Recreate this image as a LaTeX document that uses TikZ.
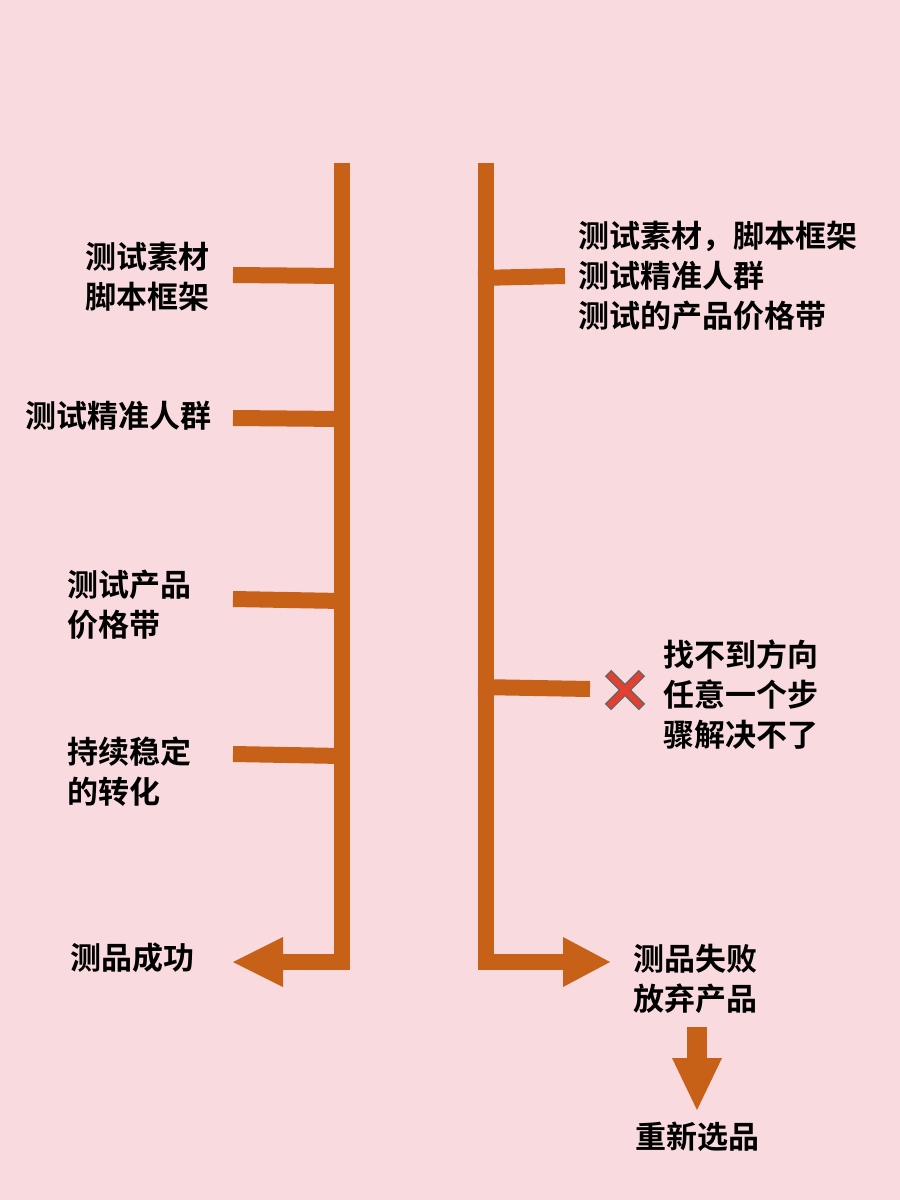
\documentclass[tikz,border=0pt]{standalone}
\usepackage{fontspec}
\newfontfamily\cjk{Noto Sans CJK SC Bold}
\usetikzlibrary{arrows.meta}
\definecolor{bg}{HTML}{F9DADF}
\definecolor{org}{HTML}{C66117}
\begin{document}
\begin{tikzpicture}[x=1pt,y=-1pt,
  bar/.style={draw=org,line width=16pt},
  lbl/.style={font=\cjk\fontsize{31}{40}\selectfont,align=left,anchor=west,inner sep=0pt,text=black},
  fat/.style={fill=org,draw=none}]
\fill[bg] (0,0) rectangle (900,1200);
\useasboundingbox (0,0) rectangle (900,1200);
% left
\coordinate (lt) at (342,163); \coordinate (lb) at (342,970);
\draw[bar] (lt) -- (lb);
\coordinate (l1) at (233,275); \draw[bar] (l1) -- (342,276);
\coordinate (l2) at (233,418); \draw[bar] (l2) -- (342,419);
\coordinate (l3) at (233,599); \draw[bar] (l3) -- (342,601);
\coordinate (l4) at (233,754); \draw[bar] (l4) -- (342,756);
\draw[bar] (350,962) -- (280,962);
\fill[fat] (233,962) -- (283,937) -- (283,987) -- cycle;
% right
\coordinate (rt) at (486,163); \coordinate (rb) at (486,970);
\draw[bar] (rt) -- (rb);
\coordinate (r1) at (565,276); \draw[bar] (478,278) -- (r1);
\coordinate (r2) at (590,689); \draw[bar] (478,687) -- (r2);
\draw[bar] (478,962) -- (568,962);
\fill[fat] (610,962) -- (563,937) -- (563,987) -- cycle;
% down arrow
\fill[fat] (687,1027) rectangle (707,1062);
\fill[fat] (697,1110) -- (672,1058) -- (722,1058) -- cycle;
% X
\begin{scope}[shift={(625,690)}]
\draw[line width=9pt,draw=black!60] (-17,-17) -- (17,17) (-17,17) -- (17,-17);
\draw[line width=6pt,draw={rgb,255:red,232;green,62;blue,45}] (-16,-16) -- (16,16) (-16,16) -- (16,-16);
\end{scope}
% texts
\node[lbl] (t1) at (85,277) {测试素材\\脚本框架};
\node[lbl] (t2) at (25,416) {测试精准人群};
\node[lbl] (t3) at (67,605) {测试产品\\价格带};
\node[lbl] (t4) at (67,772) {持续稳定\\的转化};
\node[lbl] (t5) at (70,958) {测品成功};
\node[lbl] (t6) at (578,276) {测试素材，脚本框架\\测试精准人群\\测试的产品价格带};
\node[lbl] (t7) at (663,695) {找不到方向\\任意一个步\\骤解决不了};
\node[lbl] (t8) at (633,979) {测品失败\\放弃产品};
\node[lbl] (t9) at (635,1137) {重新选品};
\end{tikzpicture}
\end{document}
